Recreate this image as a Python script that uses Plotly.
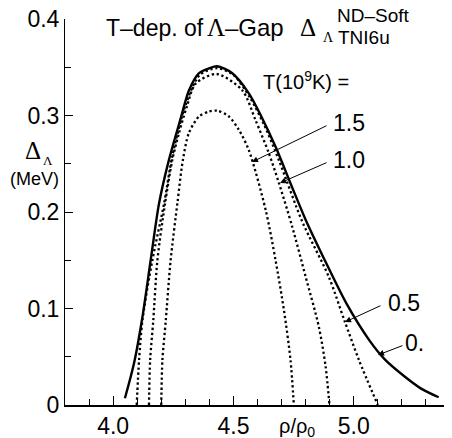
import plotly.graph_objects as go

# density rho/rho0 and Lambda gap (MeV), one curve per temperature
rho_t0 = [4.049, 4.087, 4.122, 4.156, 4.191, 4.232, 4.282, 4.315, 4.357, 4.40, 4.432,
          4.494, 4.564, 4.618, 4.676, 4.74, 4.80, 4.87, 4.97, 5.065, 5.13, 5.214, 5.28, 5.353]
gap_t0 = [0.007, 0.0435, 0.0915, 0.150, 0.209, 0.254, 0.298, 0.326, 0.344, 0.349, 0.351,
          0.344, 0.323, 0.298, 0.267, 0.228, 0.192, 0.155, 0.105, 0.067, 0.047, 0.029, 0.017, 0.008]

rho_t05 = [4.098, 4.108, 4.122, 4.163, 4.212, 4.246, 4.30, 4.36, 4.432, 4.50, 4.57, 4.63,
           4.69, 4.786, 4.896, 4.962, 5.021, 5.10]
gap_t05 = [0.0, 0.047, 0.088, 0.150, 0.209, 0.258, 0.310, 0.342, 0.349, 0.342, 0.318, 0.289,
           0.253, 0.190, 0.133, 0.087, 0.047, 0.0]

rho_t10 = [4.149, 4.154, 4.167, 4.184, 4.216, 4.246, 4.274, 4.306, 4.343, 4.43, 4.537, 4.592,
           4.647, 4.689, 4.744, 4.80, 4.855, 4.883, 4.899]
gap_t10 = [0.0, 0.047, 0.088, 0.150, 0.209, 0.254, 0.282, 0.309, 0.333, 0.343, 0.326, 0.295,
           0.261, 0.230, 0.185, 0.133, 0.081, 0.040, 0.0]

rho_t15 = [4.20, 4.205, 4.219, 4.239, 4.267, 4.29, 4.315, 4.357, 4.398, 4.433, 4.481, 4.523,
           4.564, 4.634, 4.675, 4.710, 4.737, 4.751]
gap_t15 = [0.0, 0.047, 0.088, 0.150, 0.209, 0.254, 0.282, 0.299, 0.304, 0.305, 0.299, 0.285,
           0.264, 0.202, 0.150, 0.098, 0.047, 0.0]

SANS = "Liberation Sans, Arial, sans-serif"
SERIF = "Liberation Serif, Times New Roman, serif"

# page has an 8px body margin; plot area ends up at x 65..450, y 19..405 in the window
def px(x, y):
    return dict(xref="paper", yref="paper", x=(x - 65) / 385, y=(405 - y) / 386)

fig = go.Figure()

dotted = dict(color="black", width=2.3, dash="2.3px,2.7px")
for rho, gap in [(rho_t15, gap_t15), (rho_t10, gap_t10), (rho_t05, gap_t05)]:
    fig.add_trace(go.Scatter(x=rho, y=gap, mode="lines",
                             line=dict(shape="spline", smoothing=0.8, **dotted),
                             showlegend=False, hoverinfo="skip"))

fig.add_trace(go.Scatter(x=rho_t0, y=gap_t0, mode="lines",
                         line=dict(color="black", width=2.4, shape="spline", smoothing=0.8),
                         showlegend=False, hoverinfo="skip"))

annotations = []

def text(x, y, s, size, family=SANS, anchor="center"):
    annotations.append(dict(text=s, showarrow=False, xanchor=anchor, yanchor="middle",
                            font=dict(family=family, size=size, color="black"), **px(x, y)))

# title pieces
text(104, 28, "T–dep. of", 23, anchor="left")
text(205, 28, "Λ", 25, SERIF, anchor="left")
text(223, 28, "–Gap", 24, anchor="left")
text(298, 28, "Δ", 25, SERIF, anchor="left")
text(321, 37, "Λ", 14, SERIF, anchor="left")
text(335, 16, "ND–Soft", 19, anchor="left")
text(336, 37, "TNI6u", 19, anchor="left")
text(306, 80, "T(10<sup>9</sup>K) =", 20)

# y title
text(33, 150, "Δ", 25, SERIF)
text(48, 160, "Λ", 13, SERIF)
text(34, 179, "(MeV)", 18)

# x title
text(297, 427, "ρ/ρ<sub>0</sub>", 20)

# temperature labels
text(349, 123, "1.5", 23)
text(349, 160, "1.0", 23)
text(404, 303, "0.5", 23)
text(414, 343, "0.", 23)

# arrows: (tail, tip) in pixels
arrows = [((328, 125), (252, 162)), ((328, 162), (280, 183)),
          ((382, 305), (345, 322)), ((404, 345), (378, 355))]
for (tx, ty), (hx, hy) in arrows:
    annotations.append(dict(text="", showarrow=True, arrowhead=2, arrowsize=1.2, arrowwidth=1,
                            arrowcolor="black", ax=tx - hx, ay=ty - hy, standoff=0, **px(hx, hy)))

fig.update_layout(
    width=444, height=430,
    margin=dict(l=57, r=2, t=11, b=33, autoexpand=False),
    plot_bgcolor="white", paper_bgcolor="white",
    xaxis=dict(
        range=[3.8, 5.4], showgrid=False, zeroline=False, automargin=False,
        showline=True, linecolor="black", linewidth=1.5,
        ticks="inside", tick0=4.0, dtick=0.5, ticklen=9, tickcolor="black", tickwidth=1,
        tickformat=".1f", tickfont=dict(family=SANS, size=23, color="black"),
        ticklabelstandoff=0, ticklabeloverflow="allow",
        minor=dict(ticks="inside", dtick=0.1, ticklen=6, tickcolor="black", tickwidth=1),
    ),
    yaxis=dict(
        range=[0, 0.4], showgrid=False, zeroline=False, automargin=False,
        showline=True, linecolor="black", linewidth=1,
        ticks="inside", tick0=0, dtick=0.1, ticklen=8, tickcolor="black", tickwidth=1,
        tickfont=dict(family=SANS, size=23, color="black"), ticklabeloverflow="allow",
        minor=dict(ticks="inside", dtick=0.05, ticklen=6, tickcolor="black", tickwidth=1),
    ),
    annotations=annotations,
)

fig.write_html("out.html")
